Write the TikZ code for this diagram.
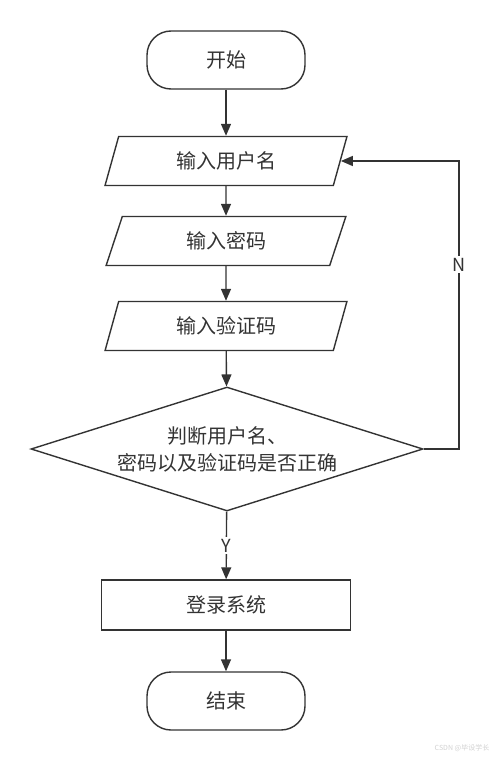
\documentclass[tikz,border=0pt]{standalone}
\usepackage{fontspec}
\setmainfont{Noto Sans CJK SC}
\usetikzlibrary{shapes.geometric,arrows.meta}
\definecolor{ink}{HTML}{333333}
\begin{document}
\begin{tikzpicture}[x=1pt,y=-1pt,
    every node/.style={text=ink,font=\fontsize{20}{27}\selectfont},
    line/.style={draw=ink,line width=1.4pt},
    arrow/.style={line,-{Triangle[length=12pt,width=10pt]}},
    terminal/.style={line,rounded corners=24pt,minimum width=158pt,minimum height=58pt},
    iobox/.style={line,trapezium,trapezium left angle=75,trapezium right angle=105,
        trapezium stretches=true,minimum width=242pt,minimum height=49pt},
    procbox/.style={line,rectangle,minimum width=249pt,minimum height=50pt},
    decide/.style={line,diamond,shape aspect=3.16,minimum width=392pt,minimum height=124pt,inner sep=0pt,align=center}]
    \useasboundingbox (0,0) rectangle (499,760);
%    \draw (0,0) to[grid with coordinates] (499,760);
    \node[terminal](start)  at (226,60)  {开始};
    \node[iobox](user)      at (226,161) {输入用户名};
    \node[iobox](pass)      at (226,241) {输入密码};
    \node[iobox](code)      at (226,326) {输入验证码};
    \node[decide](check)    at (227,449) {判断用户名、\\密码以及验证码是否正确};
    \node[procbox](login)   at (226,605) {登录系统};
    \node[terminal](finish) at (226,701) {结束};
    \coordinate(back) at (459,449);

    \draw[arrow] (start)  to (user);
    \draw[arrow] (user)   to (pass);
    \draw[arrow] (pass)   to (code);
    \draw[arrow] (code)   to (check);
    \draw[arrow] (check)  to node[fill=white,font=\fontsize{18}{20}\selectfont,inner sep=2pt]{Y} (login);
    \draw[arrow] (login)  to (finish);
    \draw[arrow] (check.east) -- (back) |- node[pos=0.32,fill=white,font=\fontsize{18}{20}\selectfont,inner sep=2pt]{N} (user.east);

    \node[text=black!18,font=\fontsize{7}{8}\selectfont](mark) at (462,748) {CSDN @毕设学长};
\end{tikzpicture}
\end{document}
